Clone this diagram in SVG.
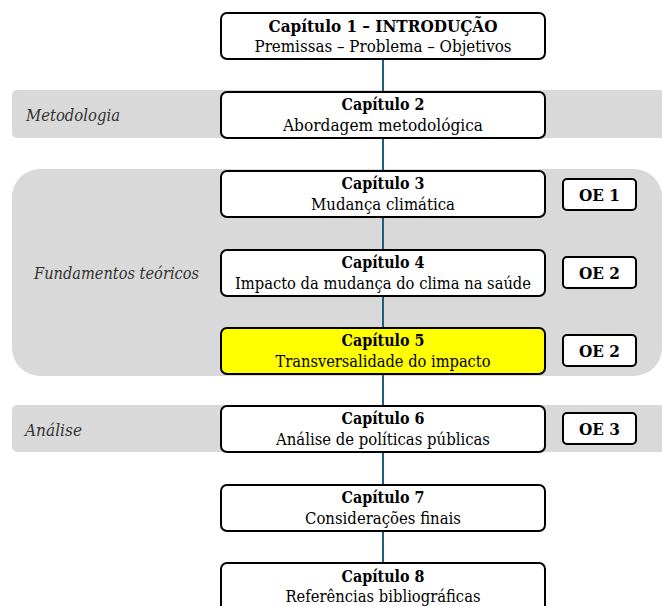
<svg xmlns="http://www.w3.org/2000/svg" width="662" height="606" viewBox="0 0 662 606">
  <style>
    .band { fill: #d9d9d9; }
    .band-label { font-family: 'DejaVu Serif', serif; font-style: italic; font-size: 16.5px; fill: #333333; }
    .chap { fill: #ffffff; stroke: #000000; stroke-width: 2; }
    .chap.hl { fill: #ffff00; }
    .t1 { font-family: 'DejaVu Serif', serif; font-weight: bold; font-size: 16.5px; fill: #000000; text-anchor: middle; }
    .t2 { font-family: 'DejaVu Serif', serif; font-size: 16.5px; fill: #000000; text-anchor: middle; }
    .oe { fill: #ffffff; stroke: #000000; stroke-width: 2; }
    .oe-text { font-family: 'DejaVu Serif', serif; font-weight: bold; font-size: 16.5px; fill: #000000; text-anchor: middle; }
    .link { stroke: #1f5e80; stroke-width: 2; fill: none; }
  </style>

  <!-- phase bands -->
  <g id="band-metodologia">
    <rect class="band" x="12" y="90" width="670" height="48" rx="5"/>
    <text class="band-label" x="26" y="121" textLength="94" lengthAdjust="spacingAndGlyphs">Metodologia</text>
  </g>
  <g id="band-fundamentos">
    <rect class="band" x="12" y="169" width="650" height="207" rx="28"/>
    <text class="band-label" x="34" y="279" textLength="165" lengthAdjust="spacingAndGlyphs">Fundamentos teóricos</text>
  </g>
  <g id="band-analise">
    <rect class="band" x="12" y="405" width="670" height="47" rx="5"/>
    <text class="band-label" x="25" y="436" textLength="57" lengthAdjust="spacingAndGlyphs">Análise</text>
  </g>

  <!-- vertical links between chapters -->
  <g id="connectors">
    <line class="link" x1="383" y1="59" x2="383" y2="92"/>
    <line class="link" x1="383" y1="138" x2="383" y2="171"/>
    <line class="link" x1="383" y1="217" x2="383" y2="250"/>
    <line class="link" x1="383" y1="296" x2="383" y2="328"/>
    <line class="link" x1="383" y1="374" x2="383" y2="406"/>
    <line class="link" x1="383" y1="452" x2="383" y2="485"/>
    <line class="link" x1="383" y1="531" x2="383" y2="563"/>
  </g>

  <!-- chapters -->
  <g id="cap1">
    <rect class="chap" x="221" y="13" width="324" height="46" rx="6"/>
    <text class="t1" x="383" y="32" textLength="229" lengthAdjust="spacingAndGlyphs">Capítulo 1 – INTRODUÇÃO</text>
    <text class="t2" x="383" y="52" textLength="257" lengthAdjust="spacingAndGlyphs">Premissas – Problema – Objetivos</text>
  </g>
  <g id="cap2">
    <rect class="chap" x="221" y="92" width="324" height="46" rx="6"/>
    <text class="t1" x="383" y="110" textLength="83" lengthAdjust="spacingAndGlyphs">Capítulo 2</text>
    <text class="t2" x="383" y="131" textLength="200" lengthAdjust="spacingAndGlyphs">Abordagem metodológica</text>
  </g>
  <g id="cap3">
    <rect class="chap" x="221" y="171" width="324" height="46" rx="6"/>
    <text class="t1" x="383" y="189" textLength="83" lengthAdjust="spacingAndGlyphs">Capítulo 3</text>
    <text class="t2" x="383" y="210" textLength="144" lengthAdjust="spacingAndGlyphs">Mudança climática</text>
  </g>
  <g id="cap4">
    <rect class="chap" x="221" y="250" width="324" height="46" rx="6"/>
    <text class="t1" x="383" y="268" textLength="83" lengthAdjust="spacingAndGlyphs">Capítulo 4</text>
    <text class="t2" x="383" y="289" textLength="296" lengthAdjust="spacingAndGlyphs">Impacto da mudança do clima na saúde</text>
  </g>
  <g id="cap5">
    <rect class="chap hl" x="221" y="328" width="324" height="46" rx="6"/>
    <text class="t1" x="383" y="346" textLength="83" lengthAdjust="spacingAndGlyphs">Capítulo 5</text>
    <text class="t2" x="383" y="367" textLength="215" lengthAdjust="spacingAndGlyphs">Transversalidade do impacto</text>
  </g>
  <g id="cap6">
    <rect class="chap" x="221" y="406" width="324" height="46" rx="6"/>
    <text class="t1" x="383" y="424" textLength="83" lengthAdjust="spacingAndGlyphs">Capítulo 6</text>
    <text class="t2" x="383" y="445" textLength="214" lengthAdjust="spacingAndGlyphs">Análise de políticas públicas</text>
  </g>
  <g id="cap7">
    <rect class="chap" x="221" y="485" width="324" height="46" rx="6"/>
    <text class="t1" x="383" y="503" textLength="83" lengthAdjust="spacingAndGlyphs">Capítulo 7</text>
    <text class="t2" x="383" y="524" textLength="156" lengthAdjust="spacingAndGlyphs">Considerações finais</text>
  </g>
  <g id="cap8">
    <rect class="chap" x="221" y="563" width="324" height="52" rx="6"/>
    <text class="t1" x="383" y="582" textLength="83" lengthAdjust="spacingAndGlyphs">Capítulo 8</text>
    <text class="t2" x="383" y="602" textLength="195" lengthAdjust="spacingAndGlyphs">Referências bibliográficas</text>
  </g>

  <!-- specific objectives -->
  <g id="oe1">
    <rect class="oe" x="563" y="179" width="73" height="31" rx="4"/>
    <text class="oe-text" x="599.5" y="201" textLength="41" lengthAdjust="spacingAndGlyphs">OE 1</text>
  </g>
  <g id="oe2a">
    <rect class="oe" x="563" y="257" width="73" height="31" rx="4"/>
    <text class="oe-text" x="599.5" y="279" textLength="41" lengthAdjust="spacingAndGlyphs">OE 2</text>
  </g>
  <g id="oe2b">
    <rect class="oe" x="563" y="335" width="73" height="31" rx="4"/>
    <text class="oe-text" x="599.5" y="357" textLength="41" lengthAdjust="spacingAndGlyphs">OE 2</text>
  </g>
  <g id="oe3">
    <rect class="oe" x="563" y="413" width="73" height="31" rx="4"/>
    <text class="oe-text" x="599.5" y="435" textLength="41" lengthAdjust="spacingAndGlyphs">OE 3</text>
  </g>
</svg>
